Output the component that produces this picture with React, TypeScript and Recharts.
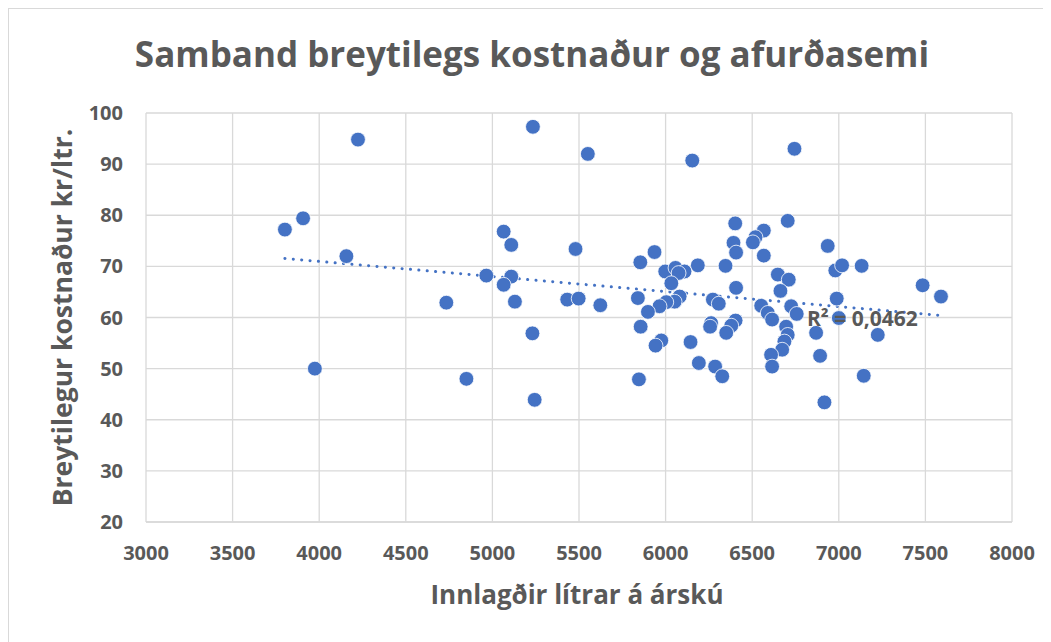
import { ScatterChart, Scatter, XAxis, YAxis, CartesianGrid, ReferenceLine } from 'recharts';

// Innlagðir lítrar á árskú
const litres = [
  4224, 5234, 5551, 3907, 3802, 4157, 5065, 5109, 5480, 4965,
  5109, 5065, 4734, 5130, 5432, 5498, 5623, 5231, 3975, 4850,
  5244, 6154, 6744, 6402, 6705, 6567, 6519, 6504, 6392, 6407,
  6567, 5936, 5854, 6346, 6186, 5998, 6057, 6109, 6075, 6033,
  6081, 6052, 6004, 5965, 5840, 5898, 6407, 6273, 6307, 6648,
  6711, 6663, 6552, 6590, 6615, 6725, 6757, 5856, 5975, 5942,
  6144, 6263, 6257, 6404, 6379, 6350, 6192, 6286, 6327, 5846,
  6696, 6705, 6686, 6673, 6609, 6615, 6869, 6892, 6917, 6936,
  6980, 7019, 7132, 7484, 7590, 6988, 7000, 7225, 7144,
];

// Breytilegur kostnaður kr/ltr.
const cost = [
  94.8, 97.3, 92.0, 79.4, 77.2, 72.0, 76.8, 74.2, 73.4, 68.2,
  68.0, 66.4, 62.9, 63.1, 63.5, 63.7, 62.4, 56.9, 50.0, 48.0,
  43.9, 90.7, 93.0, 78.4, 78.9, 77.0, 75.7, 74.7, 74.6, 72.7,
  72.1, 72.8, 70.8, 70.1, 70.2, 69.0, 69.7, 69.0, 68.7, 66.7,
  64.1, 63.1, 63.0, 62.2, 63.8, 61.1, 65.8, 63.5, 62.7, 68.4,
  67.4, 65.2, 62.3, 60.9, 59.6, 62.2, 60.7, 58.2, 55.5, 54.5,
  55.2, 58.9, 58.2, 59.4, 58.4, 57.0, 51.1, 50.4, 48.5, 47.9,
  58.2, 56.6, 55.3, 53.7, 52.7, 50.4, 57.0, 52.5, 43.4, 74.0,
  69.2, 70.2, 70.1, 66.3, 64.1, 63.7, 59.9, 56.6, 48.6,
];

// trendline ends as drawn in the picture
const trendX = [3802, 7590];
const trendY = [71.55, 60.4];
const rSquared = 'R² = 0,0462';

const xTicks = [3000, 3500, 4000, 4500, 5000, 5500, 6000, 6500, 7000, 7500, 8000];
const yTicks = [20, 30, 40, 50, 60, 70, 80, 90, 100];

const points = litres.map((x, i) => ({ x, y: cost[i] }));

const FONT = '"Open Sans", sans-serif';
const GREY = '#595959';
const BLUE = '#4472C4';

const Dot = (props: any) => (
  <circle cx={props.cx} cy={props.cy} r={7.4} fill={BLUE} stroke="#ffffff" strokeWidth={0.8} />
);

export default function App() {
  const w = 1042;
  const h = 633;
  return (
    <div
      style={{
        position: 'relative',
        width: w,
        height: h,
        borderTop: '1px solid #d9d9d9',
        borderLeft: '1px solid #d9d9d9',
        background: '#fff',
        fontFamily: FONT,
      }}
    >
      <ScatterChart width={w} height={h} margin={{ top: 104, right: 39, bottom: 0, left: 0 }}>
        <CartesianGrid stroke="#d9d9d9" strokeWidth={1.3} />
        <XAxis
          type="number"
          dataKey="x"
          domain={[3000, 8000]}
          ticks={xTicks}
          height={120}
          tickSize={0}
          tickMargin={24}
          axisLine={{ stroke: '#d9d9d9', strokeWidth: 1.3 }}
          tickLine={false}
          tick={{ fill: GREY, fontSize: 20, fontWeight: 700, fontFamily: FONT }}
        />
        <YAxis
          type="number"
          dataKey="y"
          domain={[20, 100]}
          ticks={yTicks}
          width={137}
          tickSize={0}
          tickMargin={23}
          axisLine={false}
          tickLine={false}
          tick={{ fill: GREY, fontSize: 20, fontWeight: 700, fontFamily: FONT }}
        />
        <Scatter data={points} fill={BLUE} shape={Dot} isAnimationActive={false} />
        <ReferenceLine
          segment={[
            { x: trendX[0], y: trendY[0] },
            { x: trendX[1], y: trendY[1] },
          ]}
          stroke={BLUE}
          strokeWidth={3}
          strokeDasharray="0.1 8.3"
          strokeLinecap="round"
        />
      </ScatterChart>
      <svg
        width={w}
        height={h}
        style={{ position: 'absolute', left: 0, top: 0, pointerEvents: 'none' }}
      >
        <text x={523} y={57.7} textAnchor="middle" fontSize={35} fontWeight={700} fill={GREY} fontFamily={FONT}>
          Samband breytilegs kostnaður og afurðasemi
        </text>
        <text x={568} y={595.3} textAnchor="middle" fontSize={26} fontWeight={700} fill={GREY} fontFamily={FONT}>
          Innlagðir lítrar á árskú
        </text>
        <text
          x={62.7}
          y={308.5}
          textAnchor="middle"
          fontSize={26.5}
          fontWeight={700}
          fill={GREY}
          fontFamily={FONT}
          transform="rotate(-90, 62.7, 308.5)"
        >
          Breytilegur kostnaður kr/ltr.
        </text>
        <text x={798} y={317} fontSize={21} fontWeight={700} fill={GREY} fontFamily={FONT}>
          {rSquared}
        </text>
      </svg>
    </div>
  );
}
